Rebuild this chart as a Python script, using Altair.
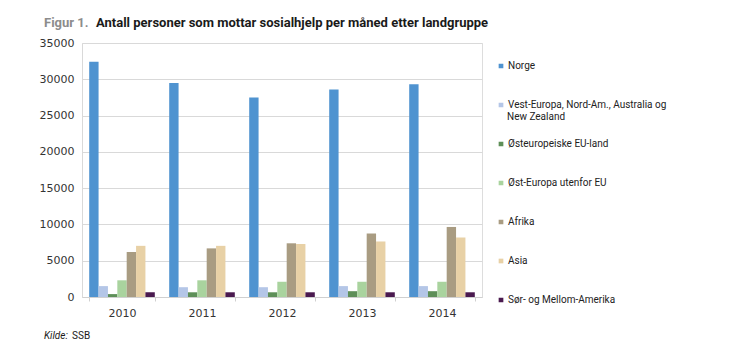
import altair as alt
import pandas as pd

years = ["2010", "2011", "2012", "2013", "2014"]
groups = [
    "Norge",
    "Vest-Europa, Nord-Am., Australia og New Zealand",
    "Østeuropeiske EU-land",
    "Øst-Europa utenfor EU",
    "Afrika",
    "Asia",
    "Sør- og Mellom-Amerika",
]
norge = [32400, 29500, 27500, 28600, 29300]
vest = [1500, 1350, 1350, 1500, 1500]
ost_eu = [400, 650, 650, 800, 800]
ost_utenfor = [2300, 2300, 2100, 2100, 2100]
afrika = [6200, 6700, 7400, 8750, 9650]
asia = [7050, 7050, 7300, 7650, 8200]
sor = [650, 650, 650, 650, 650]
colors = ["#4F93D0", "#B4C6E7", "#5E8F58", "#A9D39E", "#A99C82", "#E8D1A6", "#4A1A4F"]

series = [norge, vest, ost_eu, ost_utenfor, afrika, asia, sor]
rows = []
for g, vals in zip(groups, series):
    for y, v in zip(years, vals):
        rows.append({"year": y, "group": g, "value": v})
df = pd.DataFrame(rows)

FONT_AX = "DejaVu Sans"
FONT_TXT = "Roboto"

bars = alt.Chart(df).mark_bar(stroke=None).encode(
    x=alt.X("year:N", title=None,
            scale=alt.Scale(paddingInner=0.18, paddingOuter=0.09),
            axis=alt.Axis(labelAngle=0, labelFont=FONT_AX, labelFontSize=11,
                          labelColor="#333333", domainColor="#D0D0D0",
                          tickColor="#D0D0D0", tickSize=4, tickBand="extent",
                          labelPadding=6)),
    xOffset=alt.XOffset("group:N", sort=groups,
                        scale=alt.Scale(paddingInner=0, paddingOuter=0)),
    y=alt.Y("value:Q", title=None,
            scale=alt.Scale(domain=[0, 35000], nice=False),
            axis=alt.Axis(values=list(range(0, 35001, 5000)), format="d",
                          labelFont=FONT_AX, labelFontSize=11, labelColor="#333333",
                          ticks=False, labelPadding=8, domainColor="#D9D9D9",
                          gridColor="#D9D9D9", gridWidth=1)),
    color=alt.Color("group:N", sort=groups,
                    scale=alt.Scale(domain=groups, range=colors),
                    legend=alt.Legend(title=None, orient="none", legendX=414, legendY=16,
                                      symbolType="square", symbolSize=22,
                                      symbolStrokeWidth=0, labelFont=FONT_TXT,
                                      labelFontSize=10, labelColor="#222222",
                                      labelBaseline="middle", labelOffset=2,
                                      labelExpr="replace(datum.label, ' New Zealand', '')",
                                      clipHeight=14, rowPadding=25, labelLimit=250)),
)

nz_df = pd.DataFrame({"t": ["New Zealand"]})
nz = alt.Chart(nz_df).mark_text(align="left", baseline="alphabetic", font=FONT_TXT,
                                 fontSize=10, color="#222222").encode(
    x=alt.value(425), y=alt.value(77), text="t:N")

title_df = pd.DataFrame({"t": ["Figur 1."]})
fig = alt.Chart(title_df).mark_text(align="left", baseline="alphabetic", font=FONT_TXT,
                                     fontSize=13, fontWeight="bold", color="#8C8C8C").encode(
    x=alt.value(-38), y=alt.value(-16), text="t:N")
main_df = pd.DataFrame({"t": ["Antall personer som mottar sosialhjelp per måned etter landgruppe"]})
main = alt.Chart(main_df).mark_text(align="left", baseline="alphabetic", font=FONT_TXT,
                                     fontSize=13, fontWeight="bold", color="#1A1A1A").encode(
    x=alt.value(14), y=alt.value(-16), text="t:N")
k1_df = pd.DataFrame({"t": ["Kilde:"]})
k1 = alt.Chart(k1_df).mark_text(align="left", baseline="alphabetic", font=FONT_TXT,
                                 fontSize=10, fontStyle="italic", color="#1A1A1A").encode(
    x=alt.value(-38), y=alt.value(296), text="t:N")
k2_df = pd.DataFrame({"t": ["SSB"]})
k2 = alt.Chart(k2_df).mark_text(align="left", baseline="alphabetic", font=FONT_TXT,
                                 fontSize=10, color="#1A1A1A").encode(
    x=alt.value(-10), y=alt.value(296), text="t:N")

chart = alt.layer(bars, nz, fig, main, k1, k2).properties(
    width=400, height=254,
    autosize=alt.AutoSizeParams(type="none"),
    padding={"left": 82, "top": 43, "right": 257, "bottom": 58},
).configure_view(stroke=None).configure(background="white")

chart.save("out.html", embed_options={"renderer": "svg", "actions": False})
